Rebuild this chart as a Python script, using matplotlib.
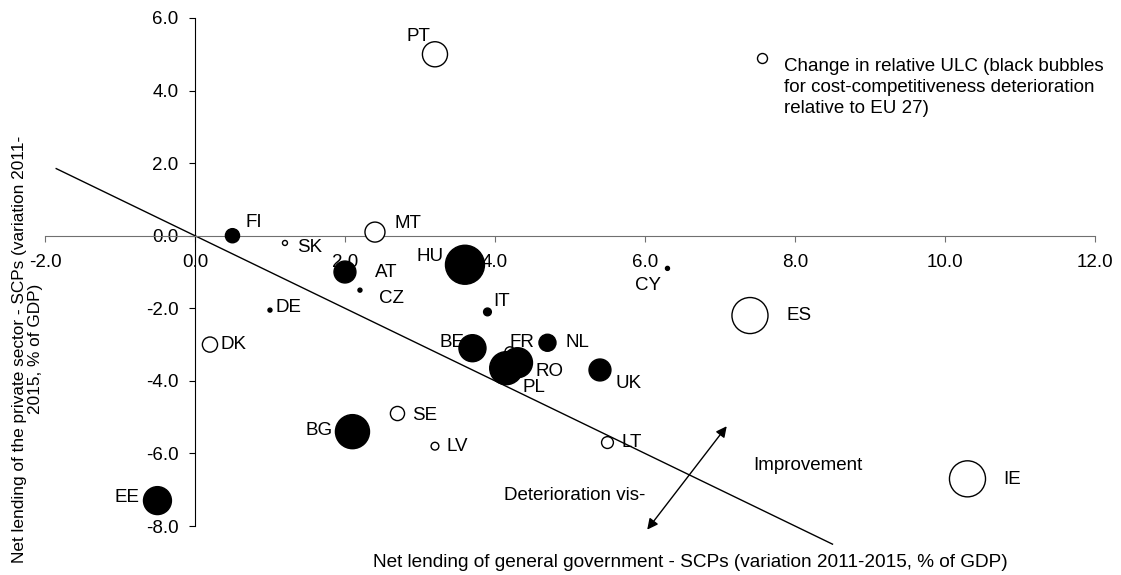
import numpy as np
import matplotlib.pyplot as plt

plt.rcParams['font.family'] = ['Liberation Sans', 'DejaVu Sans']

# Net lending variation 2011-2015 (% of GDP) and change in relative ULC
countries = ['PT', 'FI', 'MT', 'SK', 'AT', 'HU', 'CZ', 'DE', 'IT', 'DK', 'BE', 'FR',
             'NL', 'RO', 'PL', 'UK', 'SE', 'BG', 'LV', 'EE', 'ES', 'LT', 'IE', 'CY']
gov = [3.2, 0.5, 2.4, 1.2, 2.0, 3.6, 2.2, 1.0, 3.9, 0.2, 3.7, 4.2,
       4.7, 4.3, 4.15, 5.4, 2.7, 2.1, 3.2, -0.5, 7.4, 5.5, 10.3, 6.3]
priv = [5.0, 0.0, 0.1, -0.2, -1.0, -0.8, -1.5, -2.05, -2.1, -3.0, -3.1, -3.2,
        -2.95, -3.5, -3.65, -3.7, -4.9, -5.4, -5.8, -7.3, -2.2, -5.7, -6.7, -0.9]
# positive = cost-competitiveness deterioration (black bubble)
ulc = [-6.3, 2.0, -4.0, -0.25, 4.8, 15.2, 0.16, 0.16, 0.6, -2.3, 7.3, -1.0,
       2.9, 9.0, 10.9, 4.8, -2.0, 11.6, -0.6, 7.8, -13.0, -1.4, -13.0, 0.16]

# label offsets in pixels (dx, dy)
label_off = {
    'PT': (-17, 18), 'FI': (21, 13), 'MT': (33, 9), 'SK': (25, -5), 'AT': (41, 0),
    'HU': (-35, 8), 'CZ': (32, -8), 'DE': (19, 3), 'IT': (14, 10), 'DK': (24, 0),
    'BE': (-20, 6), 'FR': (12, 9), 'NL': (30, 0), 'RO': (32, -9), 'PL': (28, -19),
    'UK': (29, -14), 'SE': (27, -2), 'BG': (-33, 1), 'LV': (22, 0), 'EE': (-30, 3),
    'ES': (49, 0), 'LT': (24, 0), 'IE': (45, -1), 'CY': (-19, -17),
}

gov = np.array(gov)
priv = np.array(priv)
ulc = np.array(ulc)
sizes = 51.84 * np.abs(ulc)
fs = 13.5

fig = plt.figure(figsize=(11.21, 5.75), dpi=100)
ax = fig.add_axes([0.0401, 0.0852, 0.9367, 0.8835])

neg = ulc < 0
ax.scatter(gov[neg], priv[neg], s=sizes[neg], facecolor='white', edgecolor='black',
           linewidth=1.0, zorder=3, clip_on=False)
ax.scatter(gov[~neg], priv[~neg], s=sizes[~neg], facecolor='black', edgecolor='black',
           linewidth=1.0, zorder=4, clip_on=False)

for c, x, y in zip(countries, gov, priv):
    dx, dy = label_off[c]
    ax.annotate(c, (x, y), xytext=(dx, dy), textcoords='offset pixels',
                ha='center', va='center', fontsize=fs, zorder=5)

# y = -x reference line
lx = np.array([-1.85, 8.5])
ax.plot(lx, -lx, color='black', linewidth=1.0, clip_on=False, zorder=2)

ax.annotate('', xy=(7.09, -5.25), xytext=(6.03, -8.1),
            arrowprops=dict(arrowstyle='<|-|>', color='black', lw=1.0,
                            mutation_scale=16, shrinkA=0, shrinkB=0),
            annotation_clip=False)
ax.text(7.44, -6.32, 'Improvement', fontsize=fs, ha='left', va='center')
ax.text(4.12, -7.17, 'Deterioration vis-', fontsize=fs, ha='left', va='center')

# bubble legend
ax.scatter([0.683], [0.921], s=51.84, facecolor='white', edgecolor='black',
           linewidth=1.0, transform=ax.transAxes, clip_on=False)
ax.text(0.704, 0.922, 'Change in relative ULC (black bubbles\n'
        'for cost-competitiveness deterioration\nrelative to EU 27)',
        transform=ax.transAxes, fontsize=fs, ha='left', va='top', linespacing=1.33)

ax.set_xlim(-2, 12)
ax.set_ylim(-8, 6)
ax.set_xticks(np.arange(-2, 13, 2))
ax.set_yticks(np.arange(-8, 7, 2))
ax.set_xticklabels([f'{v:.1f}' for v in np.arange(-2, 13, 2)])
ax.set_yticklabels([f'{v:.1f}' for v in np.arange(-8, 7, 2)])
ax.spines['left'].set_position(('data', 0))
ax.spines['bottom'].set_position(('data', 0))
ax.spines['top'].set_visible(False)
ax.spines['right'].set_visible(False)
ax.spines['bottom'].set_color('#707070')
ax.tick_params(axis='x', direction='out', length=4, pad=9, labelsize=fs, color='#707070')
ax.tick_params(axis='y', direction='out', length=4, pad=8, labelsize=fs)

fig.text(0.6155, 0.021, 'Net lending of general government - SCPs (variation 2011-2015, % of GDP)',
         ha='center', va='center', fontsize=13.7)
fig.text(0.0245, 0.393, 'Net lending of the private sector - SCPs (variation 2011-\n2015, % of GDP)',
         ha='center', va='center', rotation=90, multialignment='center',
         fontsize=12.4, linespacing=1.1)

fig.savefig('out.png', dpi=100)
